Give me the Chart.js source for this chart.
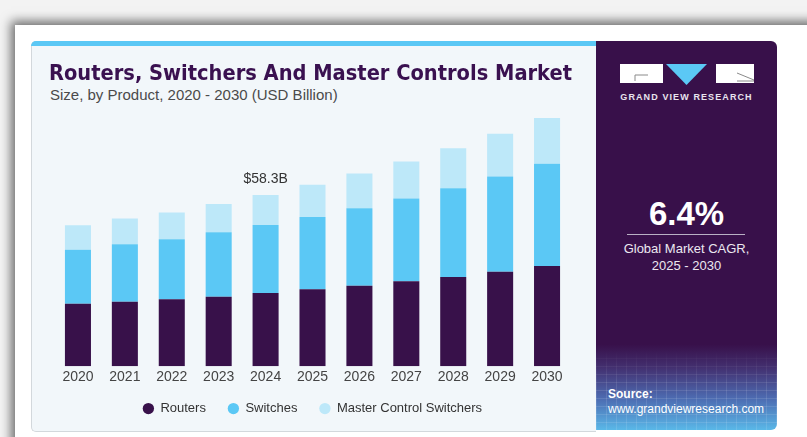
<!DOCTYPE html>
<html lang="en">
<head>
<meta charset="UTF-8">
<title>Routers, Switchers And Master Controls Market</title>
<script src="https://cdn.jsdelivr.net/npm/chart.js"></script>
<style>
  body { margin: 0; width: 807px; height: 437px; overflow: hidden; position: relative;
         background: #f3f3f3; font-family: "Liberation Sans", Arial, sans-serif; }
  .sheet { position: absolute; left: 15px; top: 25px; right: -20px; bottom: -20px; background: #fff;
           box-shadow: -4px -4px 10px rgba(0, 0, 0, 0.55); }
  .card { position: absolute; left: 31px; top: 41px; width: 564px; height: 389px; background: #f2f7fa;
          border: 1px solid #d3d8dc; border-right: none; border-radius: 5px 0 0 5px; }
  .strip { position: absolute; left: -1px; top: -1px; right: 0; height: 5px; background: #5bc8f5;
           border-radius: 5px 0 0 0; }
  #title { position: absolute; left: 49px; top: 62px; margin: 0; font: bold 22px/1 "Liberation Sans Narrow", "DejaVu Sans Condensed", sans-serif;
           color: #3a1150; white-space: nowrap; transform-origin: 0 0; }
  #subtitle { position: absolute; left: 50px; top: 87px; font-size: 15px; line-height: 1; color: #4a4a4a; white-space: nowrap; }
  .panel { position: absolute; left: 596px; top: 41px; width: 181px; height: 389px; overflow: hidden;
           border-radius: 0 6px 6px 0; color: #fff; text-align: center;
           background: linear-gradient(to bottom, #38104a 0%, #38104a 78%, #433070 84%, #4d6cb2 92%, #5ab8e8 100%); }
  .grid { position: absolute; left: 0; right: 0; bottom: 0; height: 80px;
          background: repeating-linear-gradient(to right, rgba(255,255,255,0.11) 0 1px, transparent 1px 10px),
                      repeating-linear-gradient(to bottom, rgba(255,255,255,0.11) 0 1px, transparent 1px 8px);
          -webkit-mask-image: linear-gradient(to bottom, transparent, #000 45%); }
  .logo { position: absolute; left: 24px; top: 23px; }
  .brand { position: absolute; left: 0; width: 181px; top: 52px; font: bold 9px/1 "Liberation Sans", Arial, sans-serif;
           letter-spacing: 1.1px; color: #e8e4ee; }
  .cagr { position: absolute; left: 0; width: 181px; top: 156px; font: bold 33px/1 "Liberation Sans", Arial, sans-serif; }
  .rule { position: absolute; left: 31px; width: 118px; top: 193px; height: 1px; background: #b9b0c4; }
  .note { position: absolute; left: 0; width: 181px; font-size: 13px; line-height: 16px; color: #ece8f0; }
  .src { position: absolute; left: 12px; font-size: 12px; line-height: 14px; text-align: left; }
  #chartBox { position: absolute; left: 31px; top: 46px; width: 565px; height: 390px; }
</style>
</head>
<body>
<div class="sheet"></div>
<div class="card"><div class="strip"></div></div>
<h1 id="title">Routers, Switchers And Master Controls Market</h1>
<div id="subtitle">Size, by Product, 2020 - 2030 (USD Billion)</div>

<div class="panel">
  <div class="grid"></div>
  <svg class="logo" width="134" height="21" viewBox="0 0 134 21">
    <rect x="0" y="0" width="43" height="19" fill="#fff"/>
    <polyline points="15,17 15,11 28,11" fill="none" stroke="#8a8a8a" stroke-width="1"/>
    <polygon points="46,0 87,0 66.5,21" fill="#5bc8f5"/>
    <rect x="96" y="0" width="38" height="19" fill="#fff"/>
    <polyline points="117,9 134,16 134,17 117,17" fill="none" stroke="#8a8a8a" stroke-width="1"/>
  </svg>
  <div class="brand">GRAND VIEW RESEARCH</div>
  <div class="cagr">6.4%</div>
  <div class="rule"></div>
  <div class="note" style="top:200px">Global Market CAGR,</div>
  <div class="note" style="top:217px">2025 - 2030</div>
  <div class="src" style="top:346px"><b>Source:</b></div>
  <div class="src" style="top:361px">www.grandviewresearch.com</div>
</div>

<div id="chartBox"><canvas id="grafico"></canvas></div>

<script>
  // valores (USD mil millones)
  const years = ['2020', '2021', '2022', '2023', '2024', '2025', '2026', '2027', '2028', '2029', '2030'];
  const routers = [21.3, 22.0, 22.8, 23.7, 24.9, 26.2, 27.4, 28.9, 30.4, 32.2, 34.1];
  const switches = [18.4, 19.5, 20.4, 21.9, 23.2, 24.6, 26.4, 28.2, 30.2, 32.4, 34.8];
  const masterControl = [8.3, 8.8, 9.1, 9.6, 10.2, 11.0, 11.8, 12.6, 13.6, 14.5, 15.6];
  const calloutYear = '2024';
  const calloutText = '$58.3B';

  // ajustar el ancho del titulo
  const titulo = document.getElementById('title');
  const ancho = titulo.getBoundingClientRect().width;
  titulo.style.transform = 'scaleX(' + (523 / ancho) + ')';

  const calloutPlugin = {
    id: 'callout',
    afterLayout(chart) {
      // subir la leyenda un poco, mas cerca de los años
      chart.legend.top -= 7;
      chart.legend.bottom -= 7;
    },
    afterDatasetsDraw(chart) {
      const meta = chart.getDatasetMeta(chart.data.datasets.length - 1);
      const bar = meta.data[years.indexOf(calloutYear)];
      const ctx = chart.ctx;
      ctx.save();
      ctx.font = '14px "Liberation Sans", Arial, sans-serif';
      ctx.fillStyle = '#333';
      ctx.textAlign = 'center';
      ctx.textBaseline = 'middle';
      ctx.fillText(calloutText, bar.x, bar.y - 16);
      ctx.restore();
    }
  };

  new Chart(document.getElementById('grafico'), {
    type: 'bar',
    data: {
      labels: years,
      datasets: [
        { label: 'Routers', data: routers, backgroundColor: '#38114a' },
        { label: 'Switches', data: switches, backgroundColor: '#5bc8f5' },
        { label: 'Master Control Switchers', data: masterControl, backgroundColor: '#bde8f9' }
      ]
    },
    options: {
      responsive: true,
      maintainAspectRatio: false,
      animation: false,
      categoryPercentage: 1,
      barPercentage: 0.555,
      layout: { padding: { top: 55.8, left: 23.5, right: 25.5, bottom: 3.9 } },
      plugins: {
        tooltip: { enabled: false },
        legend: {
          position: 'bottom',
          labels: {
            usePointStyle: true,
            pointStyle: 'circle',
            boxWidth: 11,
            boxHeight: 8,
            padding: 22,
            color: '#333',
            font: { family: '"Liberation Sans", Arial, sans-serif', size: 13 }
          }
        }
      },
      scales: {
        x: {
          stacked: true,
          grid: { display: false, drawTicks: false },
          border: { display: false },
          ticks: { padding: 2, color: '#444', font: { family: '"Liberation Sans", Arial, sans-serif', size: 14 } }
        },
        y: {
          stacked: true,
          display: false,
          min: 0,
          max: 90
        }
      }
    },
    plugins: [calloutPlugin]
  });
</script>
</body>
</html>
